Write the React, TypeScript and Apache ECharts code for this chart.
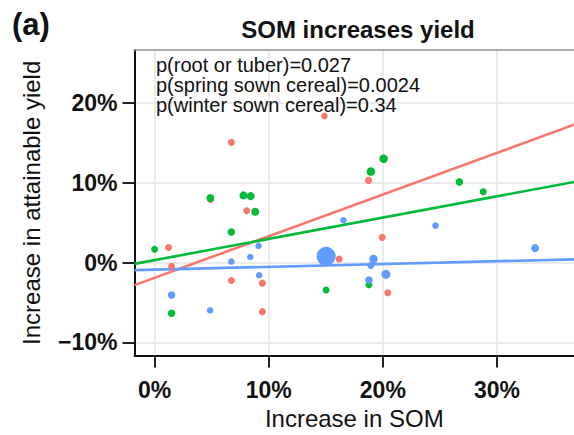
import React, { useEffect, useRef } from "react";
import * as echarts from "echarts";

// Axis extents and tick values (percent)
const xExtent = [-1.77, 36.76];
const yExtent = [-11.65, 26.6];
const xTicks = [0, 10, 20, 30];
const yTicks = [-10, 0, 10, 20];

// root or tuber (red)
const rootX = [6.72, 4.89, 8.07, 1.22, 1.48, 6.72, 9.44, 9.44, 14.88, 18.75, 19.95, 16.17, 20.44];
const rootY = [15.04, 7.9, 6.47, 1.88, -0.46, -2.26, -2.58, -6.15, 18.33, 10.28, 3.15, 0.44, -3.78];
const rootSize = [7, 7, 7, 7, 7, 7, 7, 7, 6.5, 7, 7, 7, 7];

// spring sown cereal (green)
const springX = [4.89, 7.78, 8.41, 8.81, 6.72, -0.01, 1.48, 20.07, 18.95, 18.78, 15.03, 26.71, 28.8];
const springY = [8.07, 8.4, 8.31, 6.35, 3.81, 1.67, -6.36, 12.99, 11.39, -2.79, -3.44, 10.09, 8.86];
const springSize = [8, 8, 8, 8, 7.5, 7, 7.5, 8.5, 8.5, 7, 7, 7.5, 7];

// winter sown cereal (blue)
const winterX = [1.48, 4.86, 6.72, 8.38, 9.1, 9.16, 16.55, 15.03, 19.18, 18.95, 20.27, 18.78, 24.62, 33.35];
const winterY = [-4.06, -5.99, 0.12, 0.69, 2.09, -1.6, 5.29, 0.77, 0.44, -0.37, -1.48, -2.18, 4.62, 1.8];
const winterSize = [7.5, 6.5, 6.5, 6.5, 6.5, 6.5, 6.5, 19, 8.5, 7, 9, 7.5, 6.5, 8];

// fitted regression lines (at the x extent)
const fitX = [-1.77, 36.76];
const rootFit = [-2.83, 17.25];
const springFit = [-0.17, 10.09];
const winterFit = [-0.95, 0.4];

const pLabels = [
  "p(root or tuber)=0.027",
  "p(spring sown cereal)=0.0024",
  "p(winter sown cereal)=0.34",
];

const RED = "#F8766D";
const GREEN = "#00BA38";
const BLUE = "#619CFF";
const FONT = "'Liberation Sans', Arial, Helvetica, sans-serif";

const pct = (v: number) => (v < 0 ? "\u2212" + Math.abs(v) : String(v)) + "%";

const zip = (xs: number[], ys: number[], sizes?: number[]) =>
  xs.map((x, i) => (sizes ? [x, ys[i], sizes[i]] : [x, ys[i]]));

export default function App() {
  const ref = useRef<HTMLDivElement>(null);
  useEffect(() => {
    const chart = echarts.init(ref.current!, null, { renderer: "svg" });
    const scatter = (name: string, color: string, xs: number[], ys: number[], sz: number[]) => ({
      name,
      type: "scatter",
      data: zip(xs, ys, sz),
      symbolSize: (d: number[]) => d[2],
      itemStyle: { color, opacity: 1 },
      z: 5,
      silent: true,
    });
    const line = (name: string, color: string, ys: number[]) => ({
      name,
      type: "line",
      data: zip(fitX, ys),
      showSymbol: false,
      lineStyle: { color, width: 2.6 },
      z: 3,
      silent: true,
    });
    chart.setOption({
      animation: false,
      backgroundColor: "#fff",
      textStyle: { fontFamily: FONT },
      grid: { left: 134.5, top: 50, right: -9, bottom: 74, containLabel: false },
      xAxis: [
        {
          type: "value",
          min: xExtent[0],
          max: xExtent[1],
          position: "bottom",
          name: "Increase in SOM",
          nameLocation: "middle",
          nameGap: 50,
          nameTextStyle: { fontSize: 24, color: "#111", fontFamily: FONT },
          axisLine: { show: true, onZero: false, lineStyle: { color: "#111", width: 2 } },
          axisTick: { show: true, length: 12, customValues: xTicks, lineStyle: { color: "#222", width: 2 } },
          axisLabel: {
            customValues: xTicks,
            formatter: pct,
            margin: 22.5,
            fontSize: 23,
            fontWeight: "bold",
            color: "#111",
            fontFamily: FONT,
          },
          splitLine: { show: true, lineStyle: { color: "#EBEBEB", width: 2 } },
        },
        {
          type: "value",
          min: xExtent[0],
          max: xExtent[1],
          position: "top",
          axisLine: { show: true, onZero: false, lineStyle: { color: "#8f8f8f", width: 1.6 } },
          axisTick: { show: false },
          axisLabel: { show: false },
          splitLine: { show: false },
        },
      ],
      yAxis: {
        type: "value",
        min: yExtent[0],
        max: yExtent[1],
        name: "Increase in attainable yield",
        nameLocation: "middle",
        nameGap: 91,
        nameTextStyle: { fontSize: 24, color: "#111", fontFamily: FONT },
        axisLine: { show: true, onZero: false, lineStyle: { color: "#111", width: 2 } },
        axisTick: { show: true, length: 12, customValues: yTicks, lineStyle: { color: "#222", width: 2 } },
        axisLabel: {
          customValues: yTicks,
          formatter: pct,
          margin: 17,
          fontSize: 23,
          fontWeight: "bold",
          color: "#111",
          fontFamily: FONT,
        },
        splitLine: { show: true, lineStyle: { color: "#EBEBEB", width: 2 } },
      },
      graphic: [
        {
          type: "text",
          x: 12,
          y: 24,
          style: { text: "(a)", font: `bold 31px ${FONT}`, fill: "#111", verticalAlign: "middle", align: "left" },
        },
        {
          type: "text",
          x: 358,
          y: 29,
          style: { text: "SOM increases yield", font: `bold 24px ${FONT}`, fill: "#111", verticalAlign: "middle", align: "center" },
        },
        ...pLabels.map((t, i) => ({
          type: "text",
          x: 156,
          y: 64.6 + i * 20,
          z: 10,
          style: { text: t, font: `20px ${FONT}`, fill: "#111", verticalAlign: "middle", align: "left" },
        })),
      ],
      series: [
        line("root or tuber fit", RED, rootFit),
        line("spring sown cereal fit", GREEN, springFit),
        line("winter sown cereal fit", BLUE, winterFit),
        scatter("root or tuber", RED, rootX, rootY, rootSize),
        scatter("spring sown cereal", GREEN, springX, springY, springSize),
        scatter("winter sown cereal", BLUE, winterX, winterY, winterSize),
      ],
    });
    return () => chart.dispose();
  }, []);
  return <div ref={ref} style={{ position: "absolute", left: 0, top: 0, width: 574, height: 435 }} />;
}
